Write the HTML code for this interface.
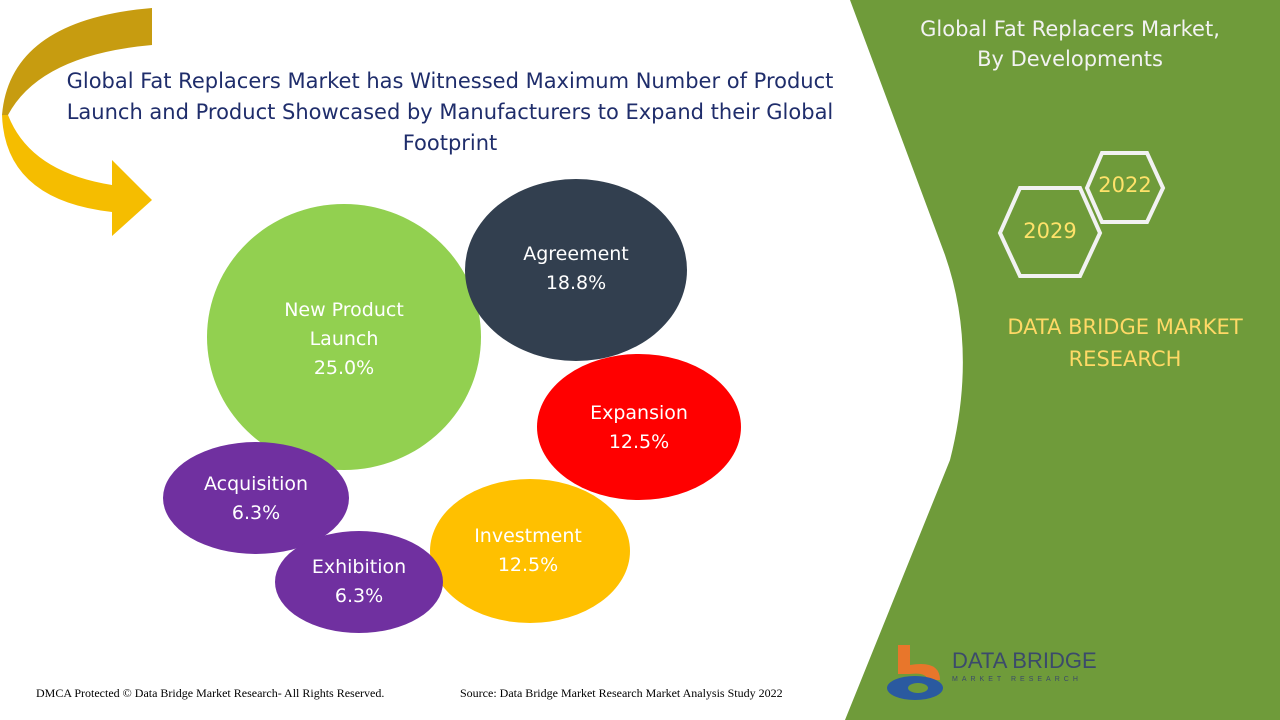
<!DOCTYPE html>
<html><head><meta charset="utf-8"><style>
body{margin:0;width:1280px;height:720px;overflow:hidden;background:#fff;font-family:"Liberation Sans",sans-serif;}
.t{position:absolute;text-align:center;font-family:"DejaVu Sans","Liberation Sans",sans-serif;}
</style></head><body>
<svg width="1280" height="720" style="position:absolute;left:0;top:0">
<path d="M850,0 L1280,0 L1280,720 L845,720 L950,460 Q978,350 945,255 Z" fill="#6f9b3a"/>
<!-- arrow -->
<path d="M152,8 Q10,20 2,115 L8,115 Q40,55 152,45 Z" fill="#c79c10"/>
<path d="M2,115 Q5,200 112,212 L112,236 L152,200 L112,160 L112,185 Q30,172 8,115 Z" fill="#f5bd00"/>
<!-- circles -->
<ellipse cx="344" cy="337" rx="137" ry="133" fill="#92d050"/>
<ellipse cx="576" cy="270" rx="111" ry="91" fill="#323f4f"/>
<ellipse cx="639" cy="427" rx="102" ry="73" fill="#ff0000"/>
<ellipse cx="256" cy="498" rx="93" ry="56" fill="#7030a0"/>
<ellipse cx="530" cy="551" rx="100" ry="72" fill="#ffc000"/>
<ellipse cx="359" cy="582" rx="84" ry="51" fill="#7030a0"/>
<!-- hexagons -->
<polygon points="1087,188 1102,153 1147,153 1163,188 1147,222 1102,222" fill="none" stroke="#f2f2f2" stroke-width="4"/>
<polygon points="1000,233 1020,188 1080,188 1100,233 1080,276 1020,276" fill="none" stroke="#f2f2f2" stroke-width="4"/>
<!-- logo -->
<path d="M898,645 L910,645 L910,665 Q940,660 940,680 L928,680 Q926,672 910,674 L898,674 Z" fill="#e8762b"/>
<ellipse cx="915" cy="688" rx="28" ry="12" fill="#2a5aa0"/>
<ellipse cx="918" cy="688" rx="10" ry="5" fill="#6f9b3a"/>
</svg>
<div class="t" style="left:40px;top:66px;width:820px;font-size:21px;line-height:31px;color:#1f2d6b">Global Fat Replacers Market has Witnessed Maximum Number of Product Launch and Product Showcased by Manufacturers to Expand their Global Footprint</div>
<div class="t" style="left:880px;top:14px;width:380px;font-size:21px;line-height:30px;color:#f2f2f2">Global Fat Replacers Market,<br>By Developments</div>
<div class="t" style="left:1095px;top:173px;width:60px;font-size:21px;color:#ffe26a">2022</div>
<div class="t" style="left:1020px;top:219px;width:60px;font-size:21px;color:#ffe26a">2029</div>
<div class="t" style="left:985px;top:311px;width:280px;font-size:21px;line-height:32px;color:#ffd966">DATA BRIDGE MARKET<br>RESEARCH</div>
<div class="t" style="left:244px;top:296px;width:200px;font-size:19px;line-height:29px;color:#fff">New Product<br>Launch<br>25.0%</div>
<div class="t" style="left:476px;top:240px;width:200px;font-size:19px;line-height:29px;color:#fff">Agreement<br>18.8%</div>
<div class="t" style="left:539px;top:399px;width:200px;font-size:19px;line-height:29px;color:#fff">Expansion<br>12.5%</div>
<div class="t" style="left:156px;top:470px;width:200px;font-size:19px;line-height:29px;color:#fff">Acquisition<br>6.3%</div>
<div class="t" style="left:428px;top:522px;width:200px;font-size:19px;line-height:29px;color:#fff">Investment<br>12.5%</div>
<div class="t" style="left:259px;top:553px;width:200px;font-size:19px;line-height:29px;color:#fff">Exhibition<br>6.3%</div>
<div style="position:absolute;left:952px;top:648px;font-size:22px;color:#3b4a6b;font-family:'Liberation Sans',sans-serif;">DATA BRIDGE</div>
<div style="position:absolute;left:952px;top:676px;font-size:7px;letter-spacing:4px;color:#3b4a6b">MARKET RESEARCH</div>
<div style="position:absolute;left:36px;top:686px;font-size:12px;font-family:'Liberation Serif',serif;color:#000">DMCA Protected © Data Bridge Market Research- All Rights Reserved.</div>
<div style="position:absolute;left:460px;top:686px;font-size:12px;font-family:'Liberation Serif',serif;color:#000">Source: Data Bridge Market Research Market Analysis Study 2022</div>
</body></html>
